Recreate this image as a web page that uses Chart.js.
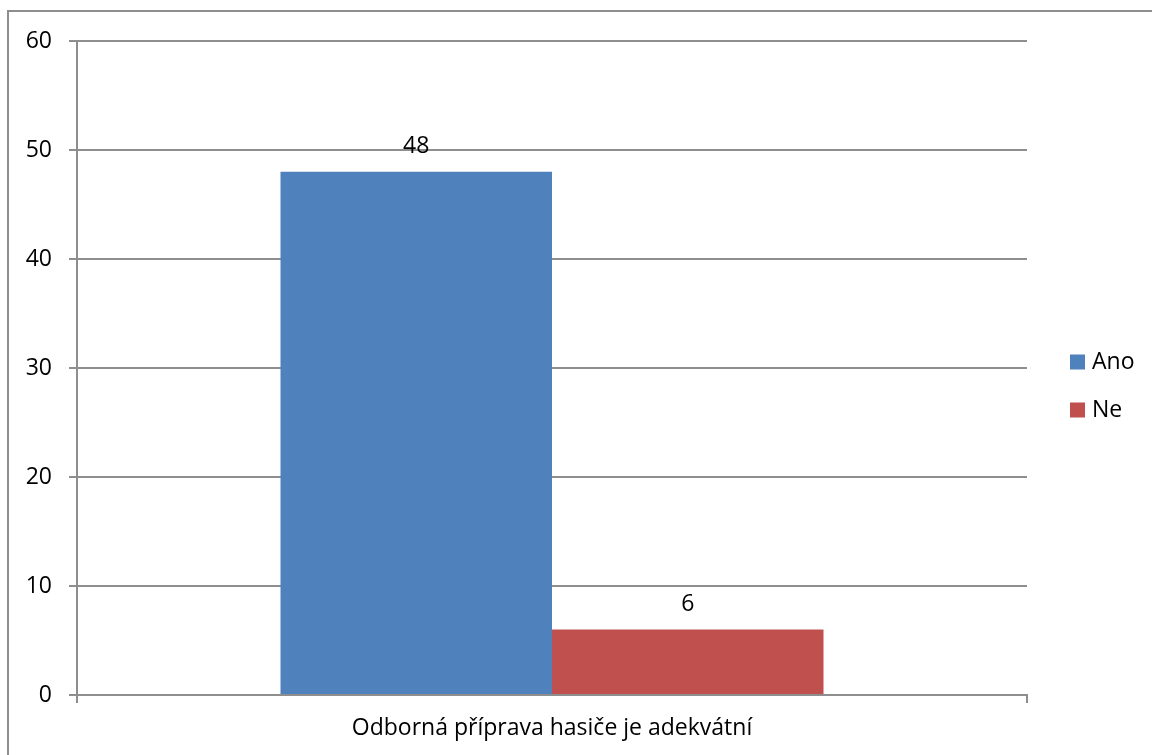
<!DOCTYPE html>
<html>
<head>
<meta charset="utf-8">
<script src="https://cdn.jsdelivr.net/npm/chart.js@4.4.1/dist/chart.umd.min.js"></script>
<style>
  html, body { margin: 0; padding: 0; background: #fff; overflow: hidden; }
  #wrap { position: relative; width: 1152px; height: 755px; }
  #frame { position: absolute; left: 7px; top: 10px; width: 1200px; height: 800px;
           border: 2px solid #8e8e8e; box-sizing: border-box; }
  #c { position: absolute; left: 0; top: 0; }
</style>
</head>
<body>
<div id="wrap">
  <div id="frame"></div>
  <canvas id="c" width="1152" height="755"></canvas>
</div>
<script>
'use strict';

// data
const categories = ['Odborná příprava hasiče je adekvátní'];
const seriesNames = ['Ano', 'Ne'];
const anoValues = [48];
const neValues = [6];
const yTicks = [0, 10, 20, 30, 40, 50, 60];

const COLORS = ['#4f81bd', '#c0504d'];
const GRID = '#8e8e8e';
const FONT = { family: '"Open Sans", sans-serif', size: 23 };

// value labels above each bar
const barValues = {
  id: 'barValues',
  afterDatasetsDraw(chart) {
    const ctx = chart.ctx;
    ctx.save();
    ctx.font = FONT.size + 'px ' + FONT.family;
    ctx.fillStyle = '#000';
    ctx.textAlign = 'center';
    ctx.textBaseline = 'middle';
    chart.data.datasets.forEach((ds, i) => {
      chart.getDatasetMeta(i).data.forEach((bar, j) => {
        ctx.fillText(String(ds.data[j]), bar.x, bar.y - 25);
      });
    });
    ctx.restore();
  }
};

// legend on the right, square swatches like the original
const sideLegend = {
  id: 'sideLegend',
  afterDraw(chart, args, opts) {
    const ctx = chart.ctx;
    ctx.save();
    ctx.font = FONT.size + 'px ' + FONT.family;
    ctx.textBaseline = 'middle';
    chart.data.datasets.forEach((ds, i) => {
      const cy = opts.y + i * opts.step;
      ctx.fillStyle = ds.backgroundColor;
      ctx.fillRect(opts.x, cy - 7.5, 15, 15);
      ctx.fillStyle = '#000';
      ctx.fillText(ds.label, opts.x + 22, cy);
    });
    ctx.restore();
  }
};

new Chart(document.getElementById('c'), {
  type: 'bar',
  data: {
    labels: categories,
    datasets: [
      { label: seriesNames[0], data: anoValues, backgroundColor: COLORS[0] },
      { label: seriesNames[1], data: neValues, backgroundColor: COLORS[1] }
    ]
  },
  options: {
    responsive: false,
    animation: false,
    layout: { padding: { left: 0, top: 41, right: 125, bottom: 0 } },
    datasets: { bar: { categoryPercentage: 0.5716, barPercentage: 1 } },
    plugins: {
      legend: { display: false },
      tooltip: { enabled: false },
      sideLegend: { x: 1070, y: 362, step: 48 }
    },
    scales: {
      x: {
        grid: { offset: true, drawOnChartArea: false, tickLength: 8, color: GRID, lineWidth: 2 },
        border: { color: GRID, width: 2 },
        ticks: { color: '#000', font: FONT, padding: 12 },
        afterFit(scale) { scale.height = 60; }
      },
      y: {
        min: 0, max: 60,
        afterBuildTicks(scale) { scale.ticks = yTicks.map(v => ({ value: v })); },
        grid: { color: GRID, lineWidth: 2, tickLength: 8 },
        border: { color: GRID, width: 2 },
        ticks: { color: '#000', font: FONT, padding: 17 },
        afterFit(scale) { scale.width = 77; }
      }
    }
  },
  plugins: [barValues, sideLegend]
});
</script>
</body>
</html>
